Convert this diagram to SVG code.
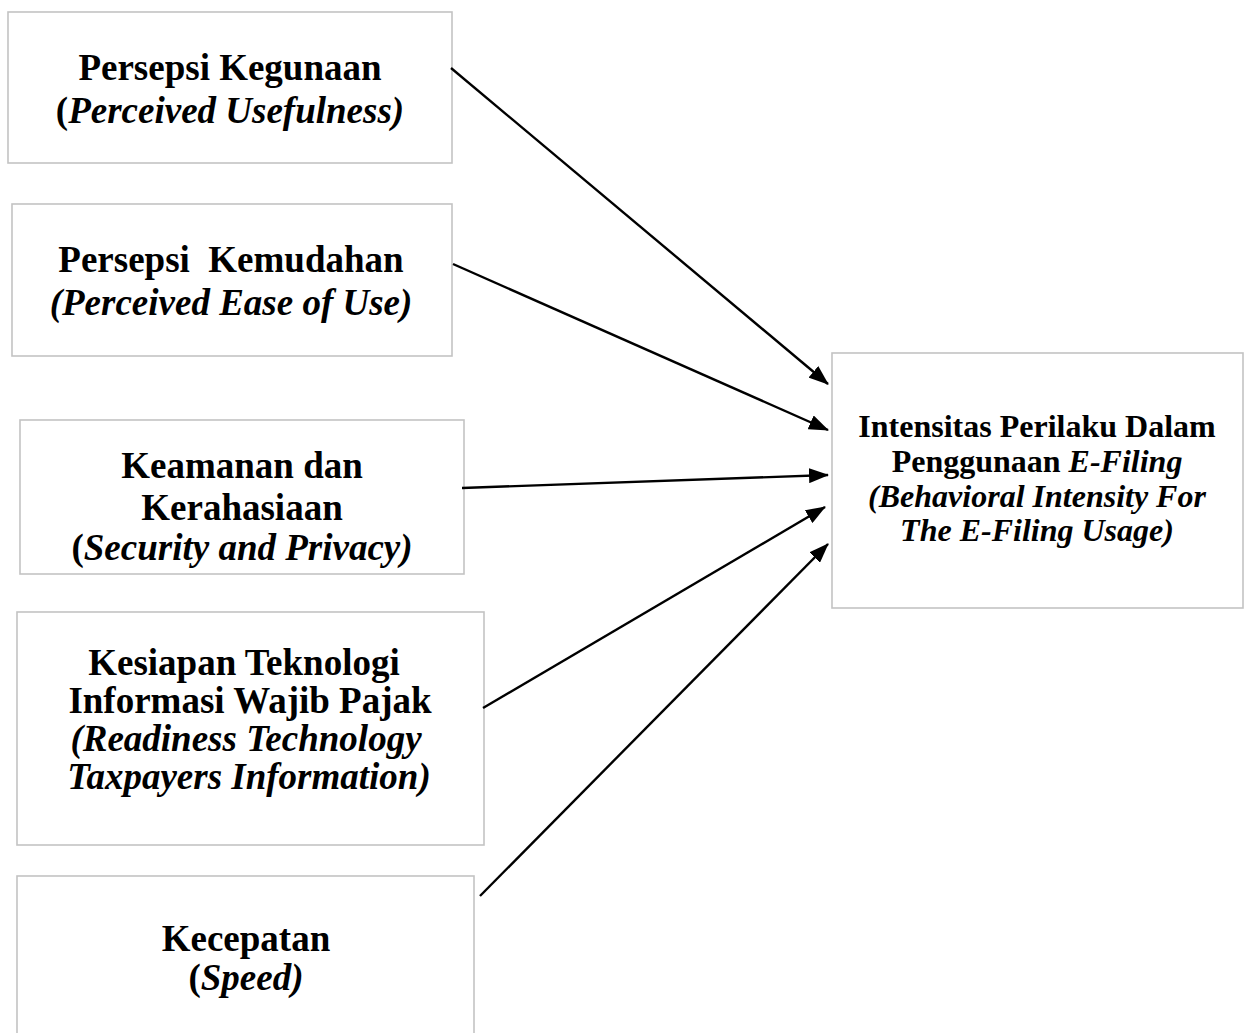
<svg xmlns="http://www.w3.org/2000/svg" width="1248" height="1033" viewBox="0 0 1248 1033">
<style>
.box{fill:#fff;stroke:#c3c3c3;stroke-width:1.6}
.t{font-family:"Liberation Serif","Times New Roman",serif;font-weight:bold;fill:#000;text-anchor:middle}
.big{font-size:37px}
.sm{font-size:32px}
.i{font-style:italic}
.conn line{stroke:#000;stroke-width:2.4}
</style>
<defs>
<marker id="ah" viewBox="0 0 20 15" refX="19" refY="7.5" markerWidth="20" markerHeight="15" markerUnits="userSpaceOnUse" orient="auto">
<path d="M0,0 L20,7.5 L0,15 z" fill="#000"/>
</marker>
</defs>
<rect width="1248" height="1033" fill="#fff"/>
<g id="n1">
<rect class="box" x="8" y="12" width="444" height="151"/>
<text class="t big" x="230" y="80">Persepsi Kegunaan</text>
<text class="t big" x="230" y="123">(<tspan class="i">Perceived Usefulness)</tspan></text>
</g>
<g id="n2">
<rect class="box" x="12" y="204" width="440" height="152"/>
<text class="t big" x="231" y="272" xml:space="preserve">Persepsi  Kemudahan</text>
<text class="t big i" x="231" y="315">(Perceived Ease of Use)</text>
</g>
<g id="n3">
<rect class="box" x="20" y="420" width="444" height="154"/>
<text class="t big" x="242" y="478">Keamanan dan</text>
<text class="t big" x="242" y="520">Kerahasiaan</text>
<text class="t big" x="242" y="560">(<tspan class="i">Security and Privacy)</tspan></text>
</g>
<g id="n4">
<rect class="box" x="17" y="612" width="467" height="233"/>
<text class="t big" x="244" y="675">Kesiapan Teknologi</text>
<text class="t big" x="250" y="713">Informasi Wajib Pajak</text>
<text class="t big i" x="246" y="751">(Readiness Technology</text>
<text class="t big i" x="249" y="789">Taxpayers Information)</text>
</g>
<g id="n5">
<rect class="box" x="17" y="876" width="457" height="170"/>
<text class="t big" x="246" y="951">Kecepatan</text>
<text class="t big" x="246" y="990">(<tspan class="i">Speed)</tspan></text>
</g>
<g id="target">
<rect class="box" x="832" y="353" width="411" height="255"/>
<text class="t sm" x="1037" y="437">Intensitas Perilaku Dalam</text>
<text class="t sm" x="1037" y="472">Penggunaan <tspan class="i">E-Filing</tspan></text>
<text class="t sm i" x="1037" y="507">(Behavioral Intensity For</text>
<text class="t sm i" x="1037" y="541">The E-Filing Usage)</text>
</g>
<g id="connectors" class="conn">
<line x1="451" y1="68" x2="828" y2="384" marker-end="url(#ah)"/>
<line x1="453" y1="264" x2="828" y2="430" marker-end="url(#ah)"/>
<line x1="462" y1="488" x2="828" y2="475" marker-end="url(#ah)"/>
<line x1="483" y1="708" x2="825" y2="507" marker-end="url(#ah)"/>
<line x1="480" y1="896" x2="828" y2="544" marker-end="url(#ah)"/>
</g>
</svg>
